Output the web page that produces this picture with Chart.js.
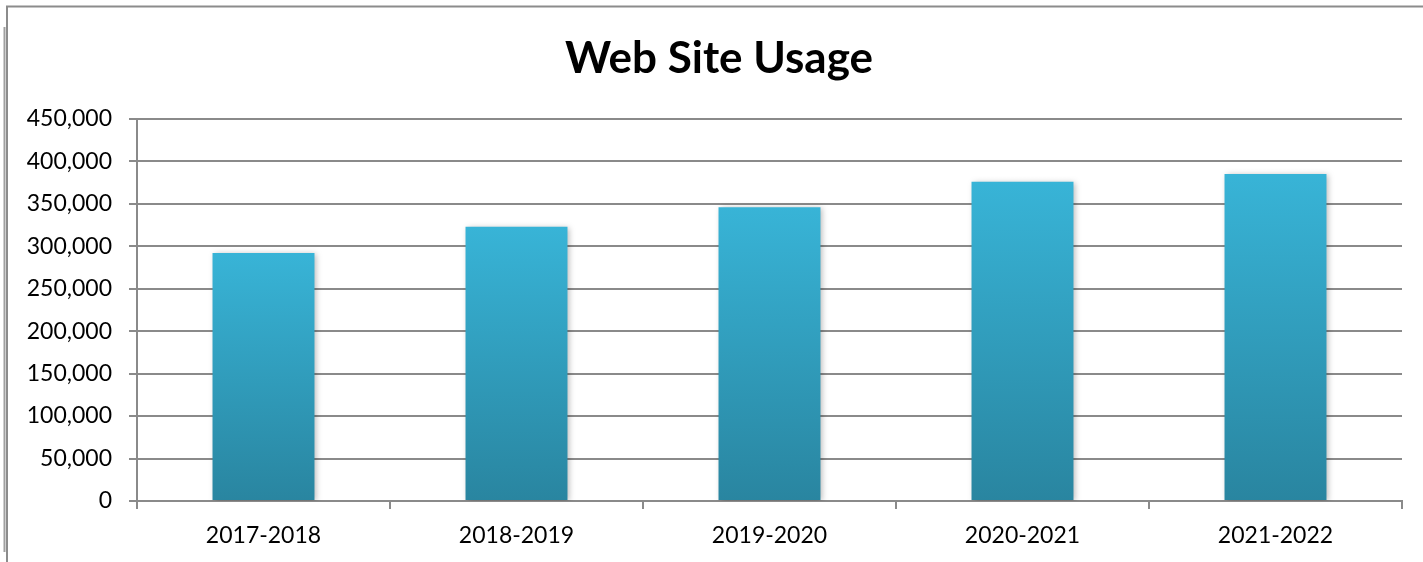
<!DOCTYPE html>
<html>
<head>
<meta charset="utf-8">
<script src="https://cdn.jsdelivr.net/npm/chart.js@4/dist/chart.umd.min.js"></script>
<style>
html,body{margin:0;padding:0;background:#fff;}
#wrap{position:relative;width:1423px;height:562px;}
</style>
</head>
<body>
<div id="wrap"><canvas id="c" width="1423" height="562"></canvas></div>
<script>
const categories = ["2017-2018", "2018-2019", "2019-2020", "2020-2021", "2021-2022"];
const usage = [292000, 323000, 346000, 376000, 385000];
const yMin = 0, yMax = 450000, yStep = 50000;
const titleText = "Web Site Usage";

const FONT = "Lato, 'Open Sans', sans-serif";
const GRID = "#8a8a8a";

const framePlugin = {
  id: 'frame',
  beforeDraw(chart) {
    const ctx = chart.ctx;
    ctx.save();
    ctx.fillStyle = '#fff';
    ctx.fillRect(0, 0, chart.width, chart.height);
    ctx.strokeStyle = '#8c8c8c';
    ctx.lineWidth = 2;
    ctx.beginPath();
    ctx.moveTo(7, 562); ctx.lineTo(7, 6.5); ctx.lineTo(1423, 6.5);
    ctx.stroke();
    ctx.strokeStyle = '#a0a0a0';
    ctx.beginPath();
    ctx.moveTo(4.5, 27); ctx.lineTo(4.5, 552);
    ctx.stroke();
    ctx.restore();
  }
};

const shadowPlugin = {
  id: 'barShadow',
  beforeDatasetsDraw(chart) {
    const ctx = chart.ctx;
    ctx.save();
    ctx.shadowColor = 'rgba(0,0,0,0.28)';
    ctx.shadowBlur = 6;
    ctx.shadowOffsetX = 2;
    ctx.shadowOffsetY = 1;
  },
  afterDatasetsDraw(chart) {
    chart.ctx.restore();
  }
};

function barGradient(context) {
  const chart = context.chart;
  const area = chart.chartArea;
  if (!area) return '#35afd2';
  const y = chart.scales.y;
  const v = context.raw;
  const top = y.getPixelForValue(v);
  const bottom = y.getPixelForValue(0);
  const g = chart.ctx.createLinearGradient(0, top, 0, bottom);
  g.addColorStop(0, '#38b4d7');
  g.addColorStop(1, '#2985a0');
  return g;
}

new Chart(document.getElementById('c'), {
  type: 'bar',
  data: {
    labels: categories,
    datasets: [{
      label: 'Usage',
      data: usage,
      backgroundColor: barGradient,
      borderWidth: 0,
      barPercentage: 0.403,
      categoryPercentage: 1.0
    }]
  },
  options: {
    responsive: false,
    animation: false,
    devicePixelRatio: 1,
    layout: { padding: { left: 15, right: 0, top: 0, bottom: 0 } },
    plugins: {
      legend: { display: false },
      tooltip: { enabled: false },
      title: {
        display: true,
        text: titleText,
        color: '#000',
        font: { family: FONT, size: 44, weight: 'bold' },
        padding: { top: 32, bottom: 34 }
      }
    },
    scales: {
      x: {
        afterFit(scale) { scale.height = 61; },
        grid: {
          display: true,
          offset: true,
          drawOnChartArea: false,
          drawTicks: true,
          tickLength: 8,
          color: GRID,
          lineWidth: 2
        },
        border: { display: true, color: GRID, width: 2 },
        ticks: {
          color: '#000',
          font: { family: FONT, size: 23 },
          padding: 13,
          maxRotation: 0
        }
      },
      y: {
        min: yMin,
        max: yMax,
        afterFit(scale) { scale.width = 122; },
        grid: {
          display: true,
          drawTicks: true,
          tickLength: 8,
          color: GRID,
          lineWidth: 2
        },
        border: { display: true, color: GRID, width: 2 },
        ticks: {
          stepSize: yStep,
          color: '#000',
          font: { family: FONT, size: 23 },
          padding: 17,
          callback: (v) => v.toLocaleString('en-US')
        }
      },
      yRight: {
        position: 'right',
        min: yMin,
        max: yMax,
        afterFit(scale) { scale.width = 21; },
        grid: { display: false },
        border: { display: false },
        ticks: { display: false }
      }
    }
  },
  plugins: [framePlugin, shadowPlugin]
});
</script>
</body>
</html>
